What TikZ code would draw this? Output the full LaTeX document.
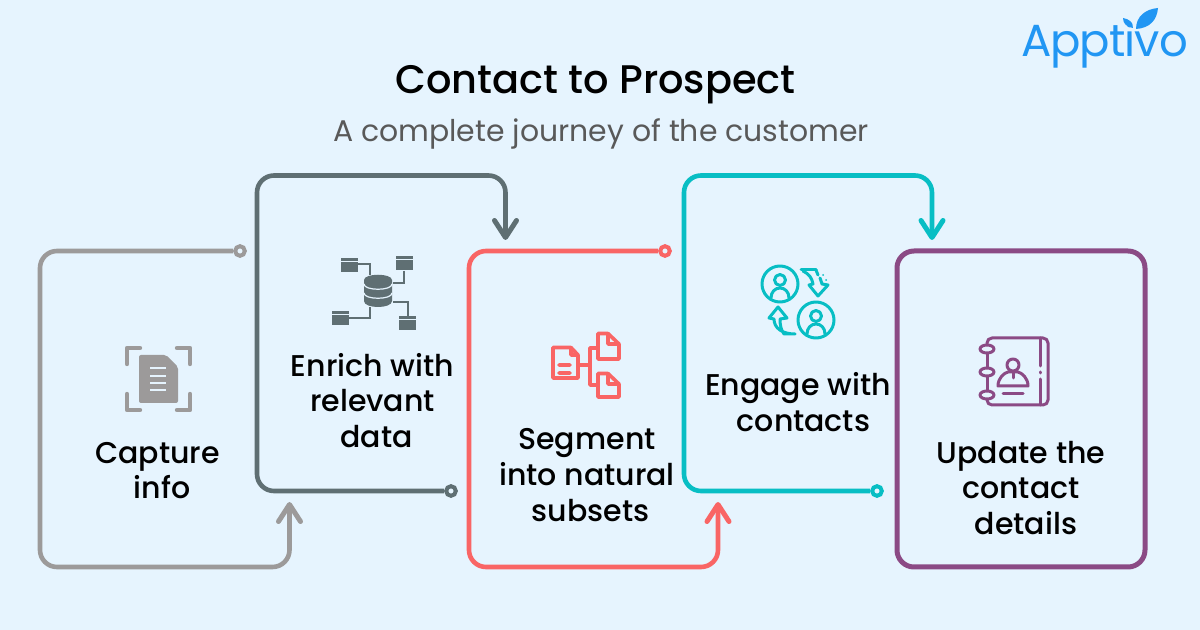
\documentclass[tikz,border=0pt]{standalone}
\usepackage{fontspec}
\setmainfont{Poppins}
\newfontfamily\medfont{Poppins Medium}
\newfontfamily\logofont{Poppins}[LetterSpace=-2.2]
\usetikzlibrary{arrows.meta,shapes.geometric}
\definecolor{bg}{HTML}{E6F4FE}
\definecolor{cgray}{HTML}{9C9A9A}
\definecolor{cslate}{HTML}{5F6F73}
\definecolor{cred}{HTML}{F96565}
\definecolor{cteal}{HTML}{08BEC4}
\definecolor{cpurple}{HTML}{8B4A85}
\definecolor{cblue}{HTML}{2196F3}
\tikzset{
  x=0.5pt,y=-0.5pt,
  flow/.style={line width=2.3pt,rounded corners=8.5pt,line join=round,
    -{Straight Barb[length=8.5pt,width=11pt,line width=2.5pt,round]}},
  dot/.style={circle,draw=#1,fill=bg,line width=2pt,minimum size=4.8pt,inner sep=0pt},
  stepl/.style={font=\medfont\fontsize{15}{17.8}\selectfont,align=center,text=black,inner sep=0pt},
  ic/.style={line width=1.5pt,line cap=round,line join=round,draw=#1},
}
\begin{document}
\begin{tikzpicture}
\useasboundingbox (0,0) rectangle (1200,630);
\fill[bg] (0,0) rectangle (1200,630);

% titles
\node[font=\medfont\fontsize{19.95}{22}\selectfont,inner sep=0pt] (title) at (595.5,85) {Contact to Prospect};
\node[font=\fontsize{14.95}{17}\selectfont,text=black!65,inner sep=0pt] (sub) at (601,134) {A complete journey of the customer};

% logo
\node[font=\logofont\fontsize{22.5}{24}\selectfont,text=cblue,inner sep=0pt,anchor=base] (logo) at (1104.5,57) {Apptivo};
\fill[cblue] (1136,29) .. controls (1136,16) and (1146,9) .. (1158,8) .. controls (1157,20) and (1150,28) .. (1136,29) -- cycle;
\fill[cblue] (1133,28) .. controls (1127,27) and (1123,24) .. (1123,18) .. controls (1129,19) and (1133,22) .. (1133,28) -- cycle;

% connectors
\node[dot=cgray] (d1) at (240,251) {};
\coordinate (a1) at (289.5,502);
\draw[flow,cgray] (d1) -- (40,251) -- (40,567) -- (289.5,567) -- (a1);

\node[dot=cslate] (d2) at (451,491) {};
\coordinate (a2) at (505.5,240);
\draw[flow,cslate] (d2) -- (257,491) -- (257,175.5) -- (505.5,175.5) -- (a2);

\node[dot=cred] (d3) at (665,251) {};
\coordinate (a3) at (718,502);
\draw[flow,cred] (d3) -- (469,251) -- (469,567) -- (718,567) -- (a3);

\node[dot=cteal] (d4) at (877,491) {};
\coordinate (a4) at (932,240);
\draw[flow,cteal] (d4) -- (684,491) -- (684,175.5) -- (932,175.5) -- (a4);

\node[draw=cpurple,line width=2.5pt,rounded corners=8.5pt,minimum width=124pt,minimum height=158pt,inner sep=0pt] (box) at (1021,409) {};

% labels
\node[stepl] (t1) at (157.5,470.5) {Capture\\\hspace*{4.5pt}info};
\node[stepl] (t2) at (372.5,400.5) {Enrich with\\relevant\\\hspace*{4pt}data};
\node[stepl] (t3) at (587,475) {Segment\\into natural\\\hspace*{3.5pt}subsets};
\node[stepl] (t4) at (798,402) {Engage with\\\hspace*{5.5pt}contacts};
\node[stepl] (t5) at (1021,488) {Update the\\contact\\\hspace*{5pt}details};

% icon 1
\begin{scope}
\draw[cgray,line width=2.2pt,line cap=round,line join=round]
  (140,348) -- (127,348) -- (127,364)
  (177,348) -- (190,348) -- (190,364)
  (127,394) -- (127,410) -- (140,410)
  (190,394) -- (190,410) -- (177,410);
\fill[cgray,rounded corners=1pt] (139,355) -- (166,355) -- (178,367) -- (178,403) -- (139,403) -- cycle;
\draw[bg,line width=.8pt] (150,368) -- (166,368) (150,376) -- (166,376) (150,383) -- (166,383) (150,390) -- (166,390);
\end{scope}

% icon 2
\begin{scope}
\foreach \x/\y in {341/258,396/256,332/311,399/316}{
  \fill[cslate] (\x,\y) rectangle +(17,14);
  \draw[bg,line width=.5pt] (\x,\y+4) -- +(17,0);
}
\draw[cslate,line width=1pt] (358,264) -- (370,264) -- (370,275)
  (404,271) -- (404,283) -- (393,283)
  (349,318) -- (370,318) -- (370,307)
  (393,302) -- (408,302) -- (408,316);
\fill[cslate] (364,280) .. controls (364,273) and (392,273) .. (392,280) -- (392,301)
  .. controls (392,309) and (364,309) .. (364,301) -- cycle;
\draw[bg,line width=.6pt] (364,284) .. controls (364,291) and (392,291) .. (392,284)
  (364,293) .. controls (364,300) and (392,300) .. (392,293);
\end{scope}

% icon 3
\begin{scope}[every path/.append style={line width=1.8pt}]
\draw[ic=cred,line width=1.8pt] (571,347.5) -- (553,347.5) -- (553,378) -- (578,378) -- (578,355) -- (571,347.5) -- (571,355) -- (578,355)
  (559,365) -- (570,365) (559,373) -- (570,373);
\draw[ic=cred,line width=1.8pt] (608,333.5) -- (598,333.5) -- (598,359) -- (619,359) -- (619,344) -- (608,333.5) -- (608,344) -- (619,344);
\draw[ic=cred,line width=1.8pt] (608,373.5) -- (598,373.5) -- (598,397) -- (619,397) -- (619,384) -- (608,373.5) -- (608,384) -- (619,384);
\draw[ic=cred,line width=1.8pt] (578,365) -- (590,365) (598,348) -- (590,348) -- (590,385) -- (598,385);
\end{scope}

% icon 4
\begin{scope}
\draw[ic=cteal] (780,284) circle[radius=18] (816,320) circle[radius=18]
  (780,280) circle[radius=5.5] (816,316) circle[radius=5.5];
\draw[ic=cteal] (771,298) .. controls (771,292) and (775,288) .. (780,288) .. controls (785,288) and (789,292) .. (789,298);
\draw[ic=cteal] (807,334) .. controls (807,328) and (811,324) .. (816,324) .. controls (821,324) and (825,328) .. (825,334);
\draw[ic=cteal] (801,270) -- (816,270);
\draw[ic=cteal] (803,271) .. controls (809,274) and (812,278) .. (813,284) -- (809,285) -- (818,296) -- (828,285) -- (822,284) -- (820,278) (816,270) -- (818,275);
\draw[ic=cteal] (795,334) -- (784,334) .. controls (781,330) and (780,325) .. (780,319) -- (787,318) -- (778,307) -- (769,318) -- (774,319) .. controls (774,328) and (782,334) .. (795,334);
\fill[cteal] (823,275) circle[radius=1] (826,280) circle[radius=1];
\end{scope}

% icon 5
\begin{scope}
\draw[ic=cpurple,rounded corners=2.5pt] (987,345) -- (987,338) -- (1048,338) -- (1048,405) -- (987,405) -- (987,399);
\draw[ic=cpurple] (987,353) -- (987,368) (987,376) -- (987,391);
\foreach \y/\n in {349/r1,372/r2,395/r3}{\node[ic=cpurple,ellipse,fill=bg,minimum width=7pt,minimum height=4pt,inner sep=0pt] (\n) at (987,\y) {};}
\draw[ic=cpurple] (1040,338) -- (1040,366) (1040,372) -- (1040,373) (1040,379) -- (1040,405);
\draw[ic=cpurple] (1013,365) circle[radius=6];
\draw[ic=cpurple] (998,386) -- (1028,386) .. controls (1028,378) and (1022,373) .. (1018,372) -- (1008,372) .. controls (1004,373) and (998,378) .. (998,386) -- cycle;
\draw[ic=cpurple] (1013,372) -- (1013,378);
\draw[ic=cpurple] (1003,394) -- (1023,394);
\end{scope}
\end{tikzpicture}
\end{document}
